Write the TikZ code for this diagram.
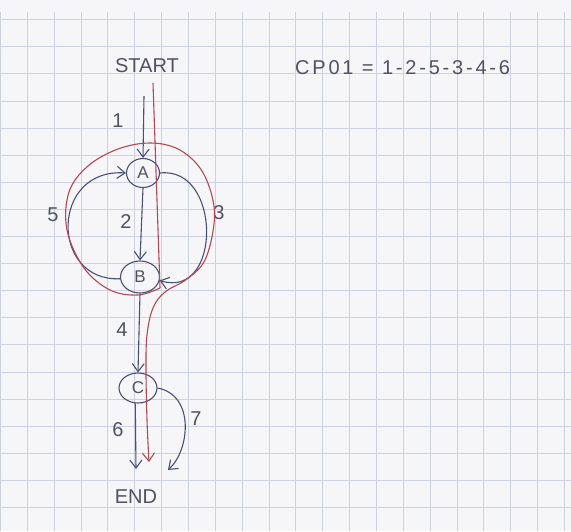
\documentclass[tikz,border=0pt]{standalone}
\usepackage{fontspec}
\setmainfont{Liberation Sans}
\usetikzlibrary{shapes.geometric,arrows.meta}
\definecolor{paper}{RGB}{246,246,248}
\definecolor{gridc}{RGB}{206,209,226}
\definecolor{pen}{RGB}{72,80,115}
\definecolor{ink}{RGB}{80,82,100}
\definecolor{redpen}{RGB}{178,72,82}
\tikzset{
  state/.style={draw=pen, line width=1.1pt, ellipse, inner sep=0pt, text=ink, font=\fontsize{17}{17}\selectfont},
  edge/.style={draw=pen, line width=1.1pt, -{Straight Barb[length=8pt,width=12pt,line width=1.1pt]}},
  lbl/.style={text=ink, font=\fontsize{20}{20}\selectfont, inner sep=0pt},
  title/.style={text=ink, font=\fontsize{20}{20}\selectfont, inner sep=0pt},
  redline/.style={draw=redpen, line width=1.1pt},
}
\begin{document}
\begin{tikzpicture}[x=1pt,y=-1pt]
\fill[paper] (0,0) rectangle (571,531);
\useasboundingbox (0,0) rectangle (571,531);
% grid
\foreach \k in {0,...,21} { \draw[gridc, line width=0.8pt] ({0.45+26.85*\k},12) -- ({0.45+26.85*\k},531); }
\foreach \k in {0,...,19} { \draw[gridc, line width=0.8pt] (0,{19.6+27.1*\k}) -- (571,{19.6+27.1*\k}); }

% texts
\node[title] (start) at (147,66) {START};
\node[title, anchor=west] (cp) at (295,68) {\addfontfeatures{LetterSpace=14}CP01 = 1-2-5-3-4-6};
\node[title] (end) at (136,497) {END};

% nodes
\node[state, minimum width=33pt, minimum height=29pt] (A) at (143,173) {A};
\node[state, minimum width=39pt, minimum height=32pt] (B) at (140,277) {B};
\node[state, minimum width=38pt, minimum height=30pt] (C) at (138,388) {C};

\coordinate (s1) at (144,96);
\coordinate (e6) at (136,469);
\coordinate (e7) at (168,470);

% blue edges
\draw[edge] (s1) -- (A.north);
\draw[edge] (A.south) -- (B.north);
\draw[edge] (B.185) .. controls (50,282) and (50,168) .. (A.west);
\draw[edge] (A.east) .. controls (222,166) and (222,300) .. (B.-10);
\draw[edge] (B.south) -- (C.north);
\draw[edge] (C.-100) -- (e6);
\draw[edge] (C.east) .. controls (195,395) and (190,450) .. (e7);

% labels
\node[lbl] (l1) at (118,121) {1};
\node[lbl] (l2) at (126,222) {2};
\node[lbl] (l5) at (53,215) {5};
\node[lbl] (l3) at (219,213) {3};
\node[lbl] (l4) at (122,330) {4};
\node[lbl] (l6) at (118,430) {6};
\node[lbl] (l7) at (196,419) {7};

% red path
\coordinate (r0) at (153,83);
\coordinate (r1) at (160,288);
\draw[redline] (r0) -- (r1);
\draw[redline, -{Straight Barb[length=8pt,width=12pt,line width=1.1pt]}]
  plot[smooth, tension=0.6] coordinates {(160,288) (138,295) (110,290) (84,268) (67,230) (69,192) (88,166) (118,149) (150,143) (178,149) (200,168) (212,196) (214,224) (205,260) (187,279) (165,292) (153,308) (147,335) (146,370) (147,420) (149,462)};
\end{tikzpicture}
\end{document}
